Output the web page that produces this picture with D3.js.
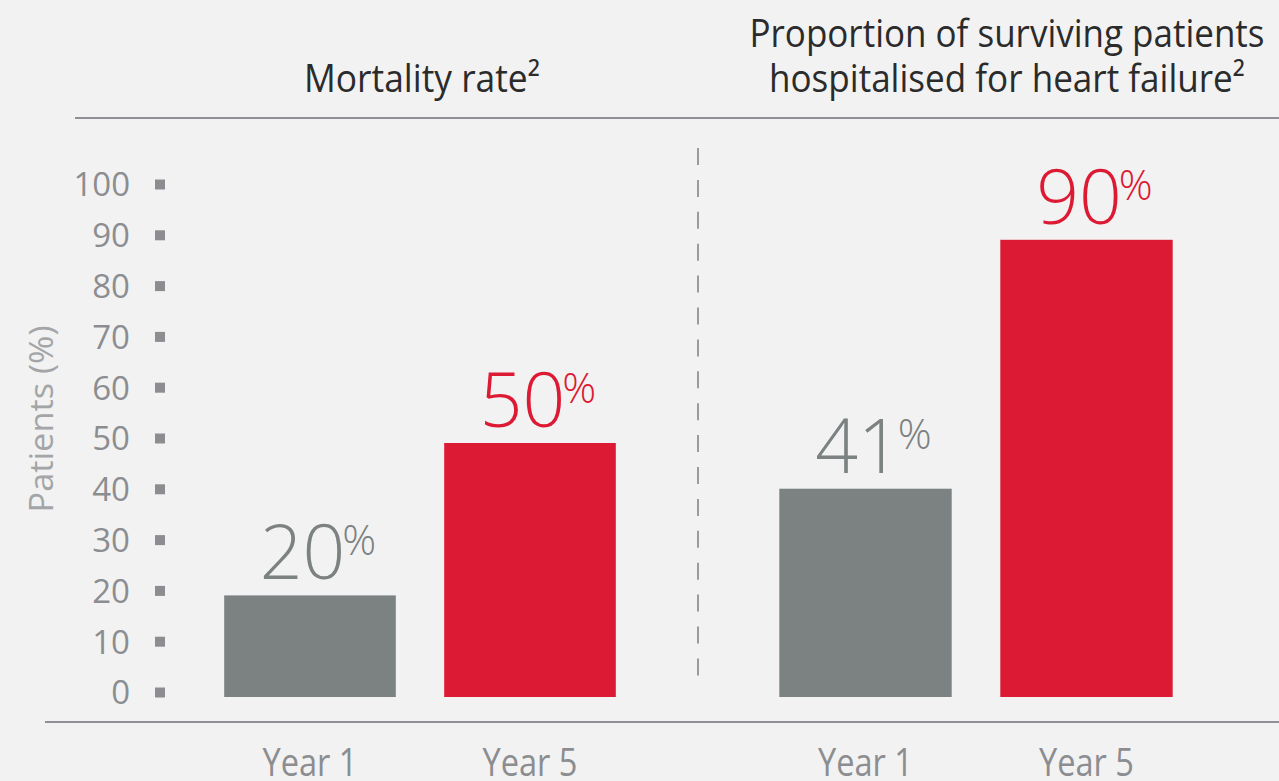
<!DOCTYPE html>
<html>
<head>
<meta charset="utf-8">
<script src="https://cdn.jsdelivr.net/npm/d3@7"></script>
<style>
	html, body { margin: 0; padding: 0; background: #f2f2f2; overflow: hidden; }
	svg { display: block; }
	.cond { font-family: "Liberation Sans Narrow", "Open Sans", sans-serif; }
	.num { font-family: "Open Sans", "Noto Sans", sans-serif; font-weight: 300; }
</style>
</head>
<body>
<svg id="chart" width="1279" height="781"></svg>
<script>
// chart values
const categories = ["Year 1", "Year 5"];
const mortality = [20, 50];
const hospitalised = [41, 90];
const yTicks = [0, 10, 20, 30, 40, 50, 60, 70, 80, 90, 100];
const panelTitles = [
	["Mortality rate²"],
	["Proportion of surviving patients", "hospitalised for heart failure²"]
];

const grey = "#7c8181";
const red = "#dc1a33";
const axisGrey = "#8b8d90";

const svg = d3.select("svg#chart");

const y = d3.scaleLinear().domain([0, 100]).range([697, 189]);

// one band scale per panel
const panels = [
	{ values: mortality, x: d3.scaleBand().domain(categories).range([200, 640]).paddingInner(0.22).paddingOuter(0.11), titleX: 422, titleLen: [236] },
	{ values: hospitalised, x: d3.scaleBand().domain(categories).range([755, 1197]).paddingInner(0.22).paddingOuter(0.11), titleX: 1007, titleLen: [515, 476] }
];
const colorFor = (cat) => (cat === "Year 1" ? grey : red);

/*
 * rules: top rule under the titles, bottom rule above the category labels
 */
svg.append("line")
	.attr("x1", 75).attr("x2", 1279)
	.attr("y1", 118).attr("y2", 118)
	.attr("stroke", "#8f9093").attr("stroke-width", 2);
svg.append("line")
	.attr("x1", 45).attr("x2", 1279)
	.attr("y1", 722).attr("y2", 722)
	.attr("stroke", "#8f9093").attr("stroke-width", 2);

// dashed divider between the two panels
let divX = (panels[0].x.range()[1] + panels[1].x.range()[0]) / 2 + 0.5;
svg.append("line")
	.attr("x1", divX).attr("x2", divX)
	.attr("y1", 148).attr("y2", 690)
	.attr("stroke", "#9a9b9d").attr("stroke-width", 2)
	.attr("stroke-dasharray", "17 14.9");

// y axis, ticks drawn as small squares
const axis = svg.append("g")
	.attr("transform", "translate(166, -5)")
	.call(d3.axisLeft(y).tickValues(yTicks).tickSize(0).tickPadding(36));
axis.select(".domain").remove();
axis.selectAll(".tick text")
	.attr("class", "num")
	.style("font-weight", 400)
	.attr("font-size", 33)
	.attr("fill", axisGrey)
	.attr("dy", "0.36em");
axis.selectAll(".tick")
	.append("rect")
	.attr("x", -11).attr("y", -5)
	.attr("width", 10).attr("height", 10)
	.attr("fill", axisGrey);

svg.append("text")
	.attr("class", "num")
	.style("font-weight", 400)
	.attr("transform", "translate(53, 419) rotate(-90)")
	.attr("text-anchor", "middle")
	.attr("font-size", 33)
	.attr("fill", "#a3a5a7")
	.attr("textLength", 187)
	.attr("lengthAdjust", "spacingAndGlyphs")
	.text("Patients (%)");

panels.forEach((p, pi) => {
	let g = svg.append("g");

	// titles
	let lines = panelTitles[pi];
	lines.forEach((line, li) => {
		g.append("text")
			.attr("class", "cond")
			.attr("x", p.titleX)
			.attr("y", 92 - (lines.length - 1 - li) * 45)
			.attr("text-anchor", "middle")
			.attr("font-size", 38)
			.attr("fill", "#2b2b2b")
			.attr("textLength", p.titleLen[li])
			.attr("lengthAdjust", "spacingAndGlyphs")
			.text(line);
	});

	// bars
	g.selectAll("rect.bar")
		.data(categories)
		.join("rect")
		.classed("bar", true)
		.attr("x", (d) => p.x(d))
		.attr("y", (d, i) => y(p.values[i]))
		.attr("width", p.x.bandwidth())
		.attr("height", (d, i) => y(0) - y(p.values[i]))
		.attr("fill", (d) => colorFor(d));

	// value labels, number + raised %
	let lbl = g.selectAll("text.value")
		.data(categories)
		.join("text")
		.classed("value num", true)
		.attr("x", (d) => p.x(d) + p.x.bandwidth() / 2 + 8)
		.attr("y", (d, i) => y(p.values[i]) - 16)
		.attr("text-anchor", "middle")
		.attr("fill", (d) => colorFor(d));
	lbl.append("tspan")
		.attr("font-size", 75)
		.text((d, i) => p.values[i]);
	lbl.append("tspan")
		.attr("font-size", 42)
		.attr("dx", -3)
		.attr("dy", -24)
		.text("%");

	// category labels
	g.selectAll("text.cat")
		.data(categories)
		.join("text")
		.classed("cat cond", true)
		.attr("x", (d) => p.x(d) + p.x.bandwidth() / 2)
		.attr("y", 776)
		.attr("text-anchor", "middle")
		.attr("font-size", 38)
		.attr("fill", axisGrey)
		.attr("textLength", 95)
		.attr("lengthAdjust", "spacingAndGlyphs")
		.text((d) => d);
});
</script>
</body>
</html>
